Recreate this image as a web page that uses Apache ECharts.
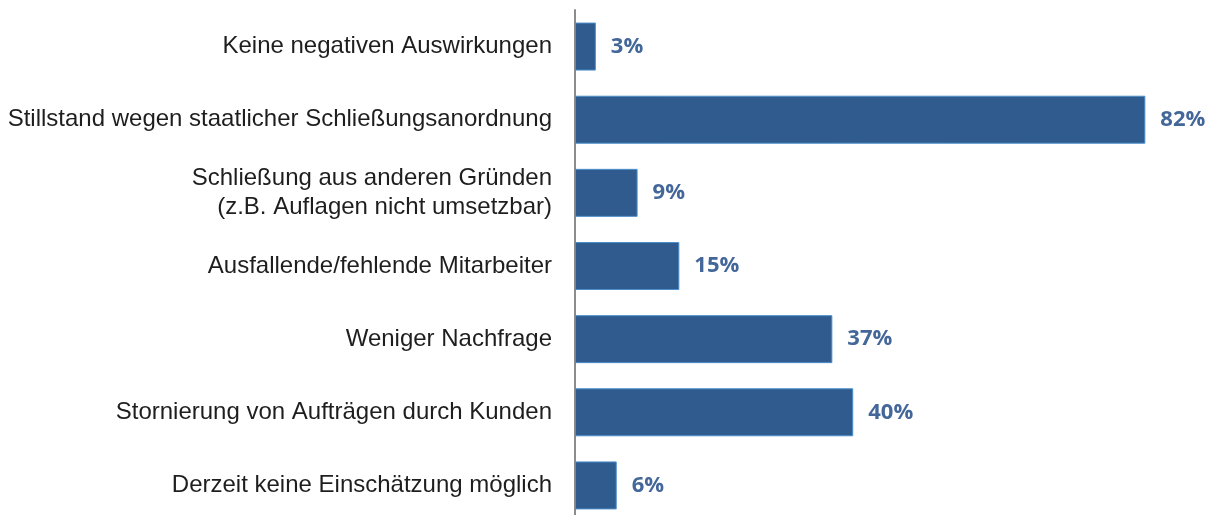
<!DOCTYPE html>
<html>
<head>
<meta charset="utf-8">
<script src="https://cdn.jsdelivr.net/npm/echarts@6/dist/echarts.min.js"></script>
<style>
  html, body { margin: 0; padding: 0; background: #fff; overflow: hidden; }
  /* taller than the window so the last band can run past the bottom edge */
  #chart { width: 1213px; height: 525px; }
</style>
</head>
<body>
<div id="chart"></div>
<script>
// categories top to bottom, as in the picture
const categories = [
    'Keine negativen Auswirkungen',
    'Stillstand wegen staatlicher Schließungsanordnung',
    'Schließung aus anderen Gründen\n(z.B. Auflagen nicht umsetzbar)',
    'Ausfallende/fehlende Mitarbeiter',
    'Weniger Nachfrage',
    'Stornierung von Aufträgen durch Kunden',
    'Derzeit keine Einschätzung möglich'
]
const shares = [3, 82, 9, 15, 37, 40, 6]

const chart = echarts.init(document.getElementById('chart'))

chart.setOption({
    animation: false,
    grid: {
        left: 575,
        right: 12,
        top: 10,
        bottom: 3,
        outerBoundsMode: 'none'
    },
    xAxis: {
        type: 'value',
        min: 0,
        max: 90,
        show: false
    },
    yAxis: {
        type: 'category',
        inverse: true,
        data: categories,
        axisTick: { show: false },
        axisLine: { lineStyle: { color: '#8c8c8c', width: 2 } },
        axisLabel: {
            margin: 23,
            fontFamily: 'Liberation Sans',
            fontSize: 24,
            color: '#1e1e1e',
            lineHeight: 29,
            align: 'right'
        }
    },
    series: [{
        type: 'bar',
        data: shares,
        barWidth: 48,
        itemStyle: {
            color: '#2f5b8e',
            borderColor: '#4d8fcc',
            borderWidth: 1
        },
        label: {
            show: true,
            position: 'right',
            distance: 15,
            formatter: '{c}%',
            fontFamily: 'Open Sans',
            fontWeight: 'bold',
            fontSize: 22,
            color: '#44679a'
        }
    }]
})

window.addEventListener('resize', () => chart.resize())
</script>
</body>
</html>
